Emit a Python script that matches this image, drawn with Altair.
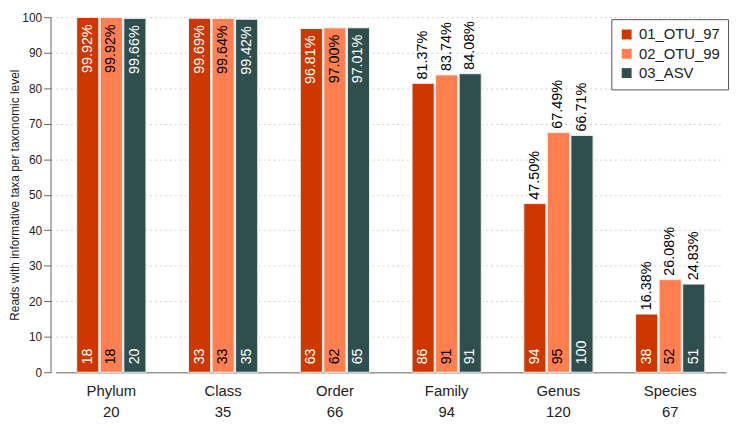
import altair as alt
import pandas as pd

categories = ["Phylum", "Class", "Order", "Family", "Genus", "Species"]
totals = [20, 35, 66, 94, 120, 67]
series_names = ["01_OTU_97", "02_OTU_99", "03_ASV"]
pct_otu97 = [99.92, 99.69, 96.81, 81.37, 47.50, 16.38]
pct_otu99 = [99.92, 99.64, 97.00, 83.74, 67.49, 26.08]
pct_asv = [99.66, 99.42, 97.01, 84.08, 66.71, 24.83]
cnt_otu97 = [18, 33, 63, 86, 94, 38]
cnt_otu99 = [18, 33, 62, 91, 95, 52]
cnt_asv = [20, 35, 65, 91, 100, 51]
y_ticks = [0, 10, 20, 30, 40, 50, 60, 70, 80, 90, 100]
colors = ["#CD3700", "#FF7F50", "#2F4F4F"]

rows = []
for s, pcts, cnts in zip(series_names, [pct_otu97, pct_otu99, pct_asv], [cnt_otu97, cnt_otu99, cnt_asv]):
    for c, t, p, n in zip(categories, totals, pcts, cnts):
        rows.append({"cat": f"{c}|{t}", "series": s, "pct": p, "zero": 0, "count": n,
                     "pct_label": f"{p:.2f}%", "count_label": str(n)})
df = pd.DataFrame(rows)
cat_order = [f"{c}|{t}" for c, t in zip(categories, totals)]

FONT = "Liberation Sans"

x = alt.X("cat:N", sort=cat_order, title=None,
          scale=alt.Scale(paddingInner=0.3805, paddingOuter=0.19),
          axis=alt.Axis(labelExpr="split(datum.label, '|')", labelAngle=0, ticks=False,
                        domainColor="#999", domainWidth=1.5, labelFontSize=15, labelColor="#222",
                        labelPadding=12, labelLineHeight=21, grid=False))
xo = alt.XOffset("series:N", sort=series_names, scale=alt.Scale(paddingInner=0.06))

y_scale = alt.Scale(domain=[0, 100], nice=False, zero=True)
Y_TITLE = "Reads with informative taxa per taxonomic level"


def yenc(field):
    return alt.Y(f"{field}:Q", scale=y_scale, title=Y_TITLE,
                 axis=alt.Axis(values=y_ticks, tickCount=11))


base = alt.Chart(df).encode(x=x, xOffset=xo)

bars = base.mark_bar(stroke="#f0f0f0", strokeWidth=1).encode(
    y=yenc("pct"),
    color=alt.Color("series:N", sort=series_names,
                    scale=alt.Scale(domain=series_names, range=colors),
                    legend=alt.Legend(title=None, orient="none", legendX=562, legendY=2,
                                      strokeColor="#555", padding=8, labelFontSize=15,
                                      labelColor="#222", symbolType="square", symbolSize=100,
                                      symbolStrokeWidth=0, rowPadding=3.5, labelOffset=5,
                                      fillColor="white"))
)

inside_color = alt.condition("datum.series == '02_OTU_99'", alt.value("black"), alt.value("white"))

pct_in = base.transform_filter("datum.pct > 90").mark_text(
    angle=270, align="right", baseline="middle", fontSize=14.5, dx=-7, font=FONT
).encode(y=yenc("pct"), text="pct_label:N", color=inside_color)

pct_out = base.transform_filter("datum.pct <= 90").mark_text(
    angle=270, align="left", baseline="middle", fontSize=14.5, dx=4, font=FONT, color="black"
).encode(y=yenc("pct"), text="pct_label:N")

cnt = base.mark_text(
    angle=270, align="left", baseline="middle", fontSize=14.5, dx=8, font=FONT
).encode(y=yenc("zero"), text="count_label:N", color=inside_color)

chart = alt.layer(bars, pct_in, pct_out, cnt).properties(
    width=678, height=359,
    autosize=alt.AutoSizeParams(type="none"),
    padding={"left": 48, "top": 7, "right": 6, "bottom": 48},
).configure(font=FONT).configure_view(stroke=None).configure_axisY(
    labelOverlap=False, offset=5, tickSize=7, domainColor="#666", tickColor="#666",
    labelColor="#222", labelFontSize=12, labelPadding=2, titleFontSize=12,
    titleFontWeight="normal", titleColor="#222", titlePadding=0,
    grid=True, gridDash=[2, 3], gridColor="#d0d0d0"
)

chart.save("out.html", embed_options={"renderer": "svg", "actions": False})
